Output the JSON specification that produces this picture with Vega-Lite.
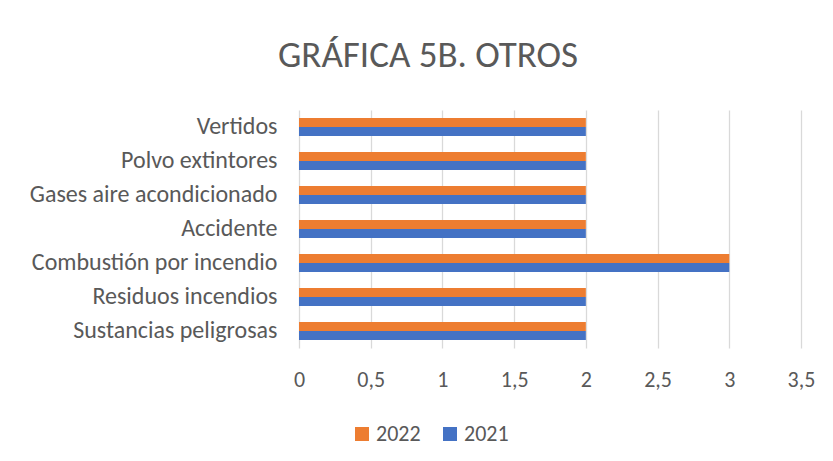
{
  "$schema": "https://vega.github.io/schema/vega-lite/v6.json",
  "autosize": "none",
  "width": 502,
  "height": 238,
  "padding": {"left": 299, "top": 110, "right": 32, "bottom": 113},
  "background": "white",
  "title": {
    "text": "GRÁFICA 5B. OTROS",
    "font": "Carlito",
    "fontSize": 37,
    "fontWeight": "normal",
    "color": "#595959",
    "anchor": "middle",
    "frame": "group",
    "dx": -122,
    "offset": 35
  },
  "data": {
    "values": [
      {"categoria": "Vertidos", "anio": "2022", "valor": 2},
      {"categoria": "Vertidos", "anio": "2021", "valor": 2},
      {"categoria": "Polvo extintores", "anio": "2022", "valor": 2},
      {"categoria": "Polvo extintores", "anio": "2021", "valor": 2},
      {"categoria": "Gases aire acondicionado", "anio": "2022", "valor": 2},
      {"categoria": "Gases aire acondicionado", "anio": "2021", "valor": 2},
      {"categoria": "Accidente", "anio": "2022", "valor": 2},
      {"categoria": "Accidente", "anio": "2021", "valor": 2},
      {"categoria": "Combustión por incendio", "anio": "2022", "valor": 3},
      {"categoria": "Combustión por incendio", "anio": "2021", "valor": 3},
      {"categoria": "Residuos incendios", "anio": "2022", "valor": 2},
      {"categoria": "Residuos incendios", "anio": "2021", "valor": 2},
      {"categoria": "Sustancias peligrosas", "anio": "2022", "valor": 2},
      {"categoria": "Sustancias peligrosas", "anio": "2021", "valor": 2}
    ]
  },
  "mark": {"type": "bar", "cornerRadius": 0},
  "encoding": {
    "y": {
      "field": "categoria",
      "type": "nominal",
      "sort": ["Vertidos", "Polvo extintores", "Gases aire acondicionado", "Accidente", "Combustión por incendio", "Residuos incendios", "Sustancias peligrosas"],
      "scale": {"paddingInner": 0.47, "paddingOuter": 0.235},
      "axis": {
        "title": null,
        "domain": false,
        "ticks": false,
        "grid": false,
        "labelFont": "Carlito",
        "labelFontSize": 24,
        "labelColor": "#595959",
        "labelPadding": 22,
        "labelLimit": 0
      }
    },
    "x": {
      "field": "valor",
      "type": "quantitative",
      "scale": {"domain": [0, 3.5], "nice": false},
      "axis": {
        "title": null,
        "values": [0, 0.5, 1, 1.5, 2, 2.5, 3, 3.5],
        "format": ".1~f",
        "labelExpr": "replace(datum.label, '.', ',')",
        "labelFlush": false,
        "domain": false,
        "ticks": false,
        "grid": true,
        "gridColor": "#D9D9D9",
        "gridWidth": 1.3,
        "labelFont": "Carlito",
        "labelFontSize": 22,
        "labelColor": "#595959",
        "labelPadding": 21
      }
    },
    "yOffset": {"field": "anio", "type": "nominal", "sort": ["2022", "2021"]},
    "color": {
      "field": "anio",
      "type": "nominal",
      "scale": {"domain": ["2022", "2021"], "range": ["#ED7D31", "#4472C4"]},
      "legend": {
        "title": null,
        "orient": "none",
        "legendX": 52,
        "legendY": 313,
        "direction": "horizontal",
        "symbolType": "square",
        "symbolSize": 196,
        "symbolStrokeWidth": 0,
        "labelFont": "Carlito",
        "labelFontSize": 22,
        "labelColor": "#595959",
        "labelOffset": 3,
        "columnPadding": 18
      }
    }
  },
  "config": {"view": {"stroke": null}}
}
